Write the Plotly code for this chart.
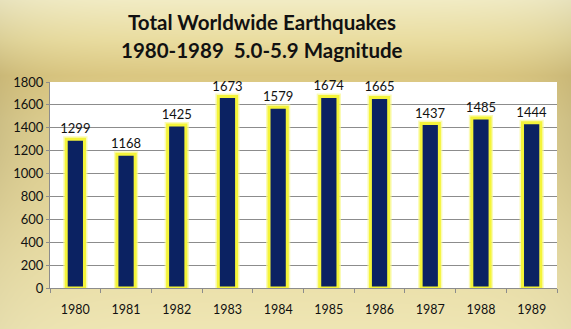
import base64
import struct
import zlib

import numpy as np
import plotly.graph_objects as go

# Annual counts of magnitude 5.0-5.9 earthquakes worldwide
years = ["1980", "1981", "1982", "1983", "1984", "1985", "1986", "1987", "1988", "1989"]
counts = [1299, 1168, 1425, 1673, 1579, 1674, 1665, 1437, 1485, 1444]
y_ticks = [0, 200, 400, 600, 800, 1000, 1200, 1400, 1600, 1800]
title_lines = ["Total Worldwide Earthquakes", "1980-1989  5.0-5.9 Magnitude"]

W, H = 571, 329
ML, MR, MT, MB = 50, 14, 82, 41
PW, PH = W - ML - MR, H - MT - MB


def png_uri(rgb):
    """Encode an HxWx3 uint8 array as a PNG data URI."""
    h, w, _ = rgb.shape
    raw = b"".join(b"\x00" + rgb[r].tobytes() for r in range(h))

    def chunk(tag, data):
        c = struct.pack(">I", len(data)) + tag + data
        return c + struct.pack(">I", zlib.crc32(tag + data) & 0xFFFFFFFF)

    png = b"\x89PNG\r\n\x1a\n"
    png += chunk(b"IHDR", struct.pack(">IIBBBBB", w, h, 8, 2, 0, 0, 0))
    png += chunk(b"IDAT", zlib.compress(raw, 9))
    png += chunk(b"IEND", b"")
    return "data:image/png;base64," + base64.b64encode(png).decode()


# Golden backdrop: light at top and bottom, a deeper band behind the title,
# with the side edges shaded darker.
stops_y = np.array([0, 40, 75, 120, 200, 329], dtype=float)
stops_c = np.array([
    [242, 236, 196],
    [234, 221, 160],
    [220, 200, 130],
    [226, 210, 146],
    [230, 216, 156],
    [239, 230, 180],
], dtype=float)
ys = np.arange(H)
xs = np.arange(W)
col = np.stack([np.interp(ys, stops_y, stops_c[:, k]) for k in range(3)], axis=1)
bg = np.repeat(col[:, None, :], W, axis=1)
edge = np.exp(-xs / 45.0) + np.exp(-(W - 1 - xs) / 45.0)
band = 0.4 + 0.6 * np.exp(-((ys - 120) / 90.0) ** 2)
shade = 1 - 0.09 * band[:, None] * edge[None, :]
bg = np.clip(bg * shade[:, :, None], 0, 255).astype(np.uint8)


def paper_y(py):
    """Pixel row -> paper y (plot area spans 0..1)."""
    return (H - MB - py) / PH


def paper_x(px):
    return (px - ML) / PW


fig = go.Figure()

# Soft glow around each bar
fig.add_trace(go.Bar(
    x=years, y=counts, width=0.36,
    marker=dict(color="#0b2262", line=dict(color="rgba(250,250,150,0.7)", width=6)),
    hoverinfo="skip", showlegend=False,
))
fig.add_trace(go.Bar(
    x=years, y=counts, width=0.36,
    marker=dict(color="#0b2262", line=dict(color="#f4f43a", width=3)),
    text=[str(v) for v in counts], textposition="outside", constraintext="none",
    textfont=dict(family="Lato, Open Sans, sans-serif", size=13, color="#111111"),
    cliponaxis=False, showlegend=False,
))

title_font = dict(family="Lato, Open Sans, sans-serif", size=20.5, color="#111111")
annotations = [
    dict(text=f"<b>{line}</b>", xref="paper", yref="paper",
         x=paper_x(262), y=paper_y(py), xanchor="center", yanchor="middle",
         showarrow=False, font=title_font)
    for line, py in zip(title_lines, [21.5, 50.5])
]

fig.update_layout(
    width=W, height=H,
    margin=dict(l=ML, r=MR, t=MT, b=MB),
    barmode="overlay",
    paper_bgcolor="#e6d394",
    plot_bgcolor="white",
    annotations=annotations,
    images=[dict(
        source=png_uri(bg), xref="paper", yref="paper",
        x=-ML / PW, y=1 + MT / PH,
        sizex=W / PW, sizey=H / PH,
        xanchor="left", yanchor="top", sizing="stretch", layer="below",
    )],
    shapes=[dict(
        type="rect", xref="x domain", yref="y domain", x0=0, x1=1, y0=0, y1=1,
        fillcolor="white", line=dict(width=0), layer="below",
    )],
    font=dict(family="Lato, Open Sans, sans-serif", size=12, color="#111111"),
)

fig.update_xaxes(
    type="category", showline=True, linecolor="#8c8c8c", linewidth=1,
    ticks="outside", tickson="boundaries", ticklen=4, tickcolor="#8c8c8c",
    ticklabelstandoff=10, tickfont=dict(size=12.5, color="#111111"),
)
fig.update_yaxes(
    range=[0, 1800], tickvals=y_ticks, ticktext=[str(v) for v in y_ticks],
    showgrid=True, gridcolor="#8c8c8c", gridwidth=1,
    showline=True, linecolor="#8c8c8c", linewidth=1,
    ticks="outside", ticklen=3, tickcolor="#8c8c8c",
    tickfont=dict(size=13, color="#111111"), zeroline=False,
)

fig.write_html("out.html")
